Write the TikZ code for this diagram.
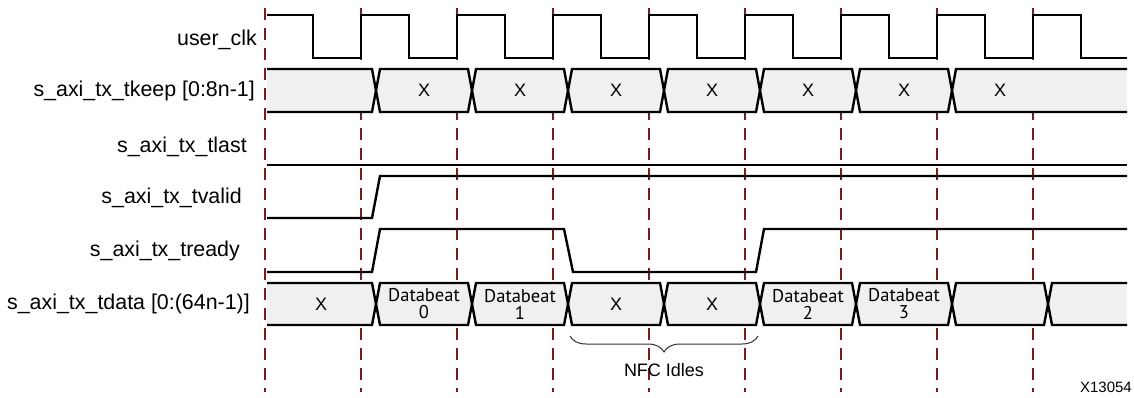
\documentclass[tikz,border=0pt]{standalone}
\usepackage{fontspec}
\setmainfont{Liberation Sans}
\newfontfamily\beatfont{PT Sans}
\usetikzlibrary{decorations.pathreplacing}
\definecolor{tdgrid}{HTML}{7E1A1A}
\definecolor{tdfill}{HTML}{F0F0F0}
\tikzset{
  sigline/.style={line width=2.4pt,line join=miter},
  gridline/.style={draw=tdgrid,line width=1.1pt,dash pattern=on 12pt off 8pt},
  siglabel/.style={anchor=east,inner sep=0pt,font=\fontsize{21.4}{24}\selectfont},
  buslabel/.style={inner sep=0pt,font=\fontsize{18}{20}\selectfont},
  beatlabel/.style={inner sep=0pt,align=center,font=\beatfont\fontsize{18.5}{17}\selectfont}
}

\begin{document}
\begin{tikzpicture}[x=1pt,y=-1pt]
  \useasboundingbox (0,0) rectangle (1134,398);
  % clock edges
  \foreach \i in {0,...,8}
    \draw[gridline] (265+96*\i,8) -- (265+96*\i,392);
  % signal names
  \node[siglabel] (nclk) at (257,40) {user\_clk};
  \node[siglabel] (nkeep) at (255,90.5) {s\_axi\_tx\_tkeep [0:8n-1]};
  \node[siglabel] (nlast) at (247,147) {s\_axi\_tx\_tlast};
  \node[siglabel] (nvalid) at (242,198) {s\_axi\_tx\_tvalid};
  \node[siglabel] (nready) at (240,251) {s\_axi\_tx\_tready};
  \node[siglabel] (ndata) at (250,304) {s\_axi\_tx\_tdata [0:(64n-1)]};
  % user_clk
  \draw[sigline] (267,15) foreach \i in {0,...,7} {
      -- (313+96*\i,15) -- (313+96*\i,58) -- (361+96*\i,58) -- (361+96*\i,15) }
    -- (1081,15) -- (1081,58) -- (1127,58);
  % tkeep bus
  \filldraw[sigline,fill=tdfill] (267,69) -- (372,69) -- (376,90.5) -- (372,112) -- (267,112);
  \foreach \a in {376,472,...,856}
    \filldraw[sigline,fill=tdfill] (\a,90.5) -- (\a+4,69) -- (\a+92,69) -- (\a+96,90.5)
      -- (\a+92,112) -- (\a+4,112) -- cycle;
  \filldraw[sigline,fill=tdfill] (1127,69) -- (956,69) -- (952,90.5) -- (956,112) -- (1127,112);
  \foreach \x [count=\k] in {424,520,...,1000}
    \node[buslabel] (keep\k) at (\x,90.5) {X};
  % tlast, tvalid, tready
  \draw[sigline] (267,165) -- (1127,165);
  \draw[sigline] (267,218) -- (372,218) -- (380,176) -- (1127,176);
  \draw[sigline] (267,272) -- (372,272) -- (380,229) -- (564,229) -- (573,272)
    -- (756,272) -- (764,229) -- (1127,229);
  % tdata bus
  \filldraw[sigline,fill=tdfill] (267,283) -- (372,283) -- (376,304) -- (372,325) -- (267,325);
  \foreach \a in {376,472,...,952}
    \filldraw[sigline,fill=tdfill] (\a,304) -- (\a+4,283) -- (\a+92,283) -- (\a+96,304)
      -- (\a+92,325) -- (\a+4,325) -- cycle;
  \filldraw[sigline,fill=tdfill] (1127,283) -- (1052,283) -- (1048,304) -- (1052,325) -- (1127,325);
  \node[buslabel] (data0) at (321,304) {X};
  \node[beatlabel] (beat0) at (424,304) {Databeat\\0};
  \node[beatlabel] (beat1) at (520,304) {Databeat\\1};
  \node[buslabel] (idle1) at (616,304) {X};
  \node[buslabel] (idle2) at (712,304) {X};
  \node[beatlabel] (beat2) at (808,304) {Databeat\\2};
  \node[beatlabel] (beat3) at (904,304) {Databeat\\3};
  % idle brace
  \coordinate (bl) at (570,336);
  \coordinate (br) at (758,336);
  \draw[decorate,decoration={brace,amplitude=16pt,mirror},line width=1pt,draw=black!80] (bl) -- (br);
  \node[buslabel] (nfc) at (664,370) {NFC Idles};
  \node[anchor=east,inner sep=0pt,font=\fontsize{15}{16}\selectfont] (figid) at (1132,387) {X13054};
\end{tikzpicture}
\end{document}
